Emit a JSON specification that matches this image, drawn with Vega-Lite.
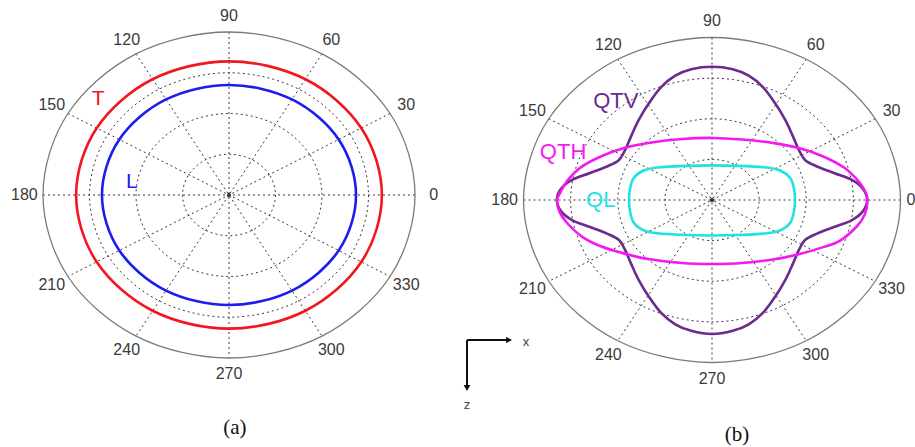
{
  "$schema": "https://vega.github.io/schema/vega-lite/v6.json",
  "width": 915,
  "height": 447,
  "autosize": {"type": "none"},
  "padding": 0,
  "background": "white",
  "config": {"view": {"stroke": null}, "axis": {"disable": true}},
  "datasets": {
    "grid": [
      {"r": 0.25, "i": 0, "x": 0.25, "y": 0}, {"r": 0.25, "i": 1, "x": 0.2165, "y": 0.125}, {"r": 0.25, "i": 2, "x": 0.125, "y": 0.2165}, {"r": 0.25, "i": 3, "x": 0, "y": 0.25}, {"r": 0.25, "i": 4, "x": -0.125, "y": 0.2165}, {"r": 0.25, "i": 5, "x": -0.2165, "y": 0.125}, {"r": 0.25, "i": 6, "x": -0.25, "y": 0}, {"r": 0.25, "i": 7, "x": -0.2165, "y": -0.125}, {"r": 0.25, "i": 8, "x": -0.125, "y": -0.2165}, {"r": 0.25, "i": 9, "x": 0, "y": -0.25}, {"r": 0.25, "i": 10, "x": 0.125, "y": -0.2165}, {"r": 0.25, "i": 11, "x": 0.2165, "y": -0.125},
      {"r": 0.5, "i": 0, "x": 0.5, "y": 0}, {"r": 0.5, "i": 1, "x": 0.433, "y": 0.25}, {"r": 0.5, "i": 2, "x": 0.25, "y": 0.433}, {"r": 0.5, "i": 3, "x": 0, "y": 0.5}, {"r": 0.5, "i": 4, "x": -0.25, "y": 0.433}, {"r": 0.5, "i": 5, "x": -0.433, "y": 0.25}, {"r": 0.5, "i": 6, "x": -0.5, "y": 0}, {"r": 0.5, "i": 7, "x": -0.433, "y": -0.25}, {"r": 0.5, "i": 8, "x": -0.25, "y": -0.433}, {"r": 0.5, "i": 9, "x": 0, "y": -0.5}, {"r": 0.5, "i": 10, "x": 0.25, "y": -0.433}, {"r": 0.5, "i": 11, "x": 0.433, "y": -0.25},
      {"r": 0.75, "i": 0, "x": 0.75, "y": 0}, {"r": 0.75, "i": 1, "x": 0.6495, "y": 0.375}, {"r": 0.75, "i": 2, "x": 0.375, "y": 0.6495}, {"r": 0.75, "i": 3, "x": 0, "y": 0.75}, {"r": 0.75, "i": 4, "x": -0.375, "y": 0.6495}, {"r": 0.75, "i": 5, "x": -0.6495, "y": 0.375}, {"r": 0.75, "i": 6, "x": -0.75, "y": 0}, {"r": 0.75, "i": 7, "x": -0.6495, "y": -0.375}, {"r": 0.75, "i": 8, "x": -0.375, "y": -0.6495}, {"r": 0.75, "i": 9, "x": 0, "y": -0.75}, {"r": 0.75, "i": 10, "x": 0.375, "y": -0.6495}, {"r": 0.75, "i": 11, "x": 0.6495, "y": -0.375}
    ],
    "outer": [
      {"i": 0, "x": 1, "y": 0}, {"i": 1, "x": 0.866, "y": 0.5}, {"i": 2, "x": 0.5, "y": 0.866}, {"i": 3, "x": 0, "y": 1}, {"i": 4, "x": -0.5, "y": 0.866}, {"i": 5, "x": -0.866, "y": 0.5}, {"i": 6, "x": -1, "y": 0}, {"i": 7, "x": -0.866, "y": -0.5}, {"i": 8, "x": -0.5, "y": -0.866}, {"i": 9, "x": 0, "y": -1}, {"i": 10, "x": 0.5, "y": -0.866}, {"i": 11, "x": 0.866, "y": -0.5}
    ],
    "spokes": [
      {"a": 0, "x": 1, "y": 0, "x2": -1, "y2": 0},
      {"a": 30, "x": 0.866, "y": 0.5, "x2": -0.866, "y2": -0.5},
      {"a": 60, "x": 0.5, "y": 0.866, "x2": -0.5, "y2": -0.866},
      {"a": 90, "x": 0, "y": 1, "x2": 0, "y2": -1},
      {"a": 120, "x": -0.5, "y": 0.866, "x2": 0.5, "y2": -0.866},
      {"a": 150, "x": -0.866, "y": 0.5, "x2": 0.866, "y2": -0.5}
    ],
    "centre": [{"x": 0, "y": 0}],
    "anglesA": [
      {"t": "0", "x": 1.1, "y": 0}, {"t": "30", "x": 0.9526, "y": 0.55}, {"t": "60", "x": 0.55, "y": 0.9526}, {"t": "90", "x": 0, "y": 1.1}, {"t": "120", "x": -0.55, "y": 0.9526}, {"t": "150", "x": -0.9526, "y": 0.55}, {"t": "180", "x": -1.1, "y": 0}, {"t": "210", "x": -0.9526, "y": -0.55}, {"t": "240", "x": -0.55, "y": -0.9526}, {"t": "270", "x": 0, "y": -1.1}, {"t": "300", "x": 0.55, "y": -0.9526}, {"t": "330", "x": 0.9526, "y": -0.55}
    ],
    "anglesB": [
      {"t": "0", "x": 1.055, "y": 0}, {"t": "30", "x": 0.9526, "y": 0.55}, {"t": "60", "x": 0.55, "y": 0.9526}, {"t": "90", "x": 0, "y": 1.1}, {"t": "120", "x": -0.55, "y": 0.9526}, {"t": "150", "x": -0.9526, "y": 0.55}, {"t": "180", "x": -1.1, "y": 0}, {"t": "210", "x": -0.9526, "y": -0.55}, {"t": "240", "x": -0.55, "y": -0.9526}, {"t": "270", "x": 0, "y": -1.1}, {"t": "300", "x": 0.55, "y": -0.9526}, {"t": "330", "x": 0.9526, "y": -0.55}
    ],
    "curvesA": [
      {"s": "T", "i": 0, "x": 0.822, "y": 0}, {"s": "T", "i": 1, "x": 0.7119, "y": 0.41}, {"s": "T", "i": 2, "x": 0.411, "y": 0.7101}, {"s": "T", "i": 3, "x": 0, "y": 0.82}, {"s": "T", "i": 4, "x": -0.411, "y": 0.7101}, {"s": "T", "i": 5, "x": -0.7119, "y": 0.41}, {"s": "T", "i": 6, "x": -0.822, "y": 0}, {"s": "T", "i": 7, "x": -0.7119, "y": -0.41}, {"s": "T", "i": 8, "x": -0.411, "y": -0.7101}, {"s": "T", "i": 9, "x": 0, "y": -0.82}, {"s": "T", "i": 10, "x": 0.411, "y": -0.7101}, {"s": "T", "i": 11, "x": 0.7119, "y": -0.41},
      {"s": "L", "i": 0, "x": 0.683, "y": 0}, {"s": "L", "i": 1, "x": 0.5915, "y": 0.3375}, {"s": "L", "i": 2, "x": 0.3415, "y": 0.5846}, {"s": "L", "i": 3, "x": 0, "y": 0.675}, {"s": "L", "i": 4, "x": -0.3415, "y": 0.5846}, {"s": "L", "i": 5, "x": -0.5915, "y": 0.3375}, {"s": "L", "i": 6, "x": -0.683, "y": 0}, {"s": "L", "i": 7, "x": -0.5915, "y": -0.3375}, {"s": "L", "i": 8, "x": -0.3415, "y": -0.5846}, {"s": "L", "i": 9, "x": 0, "y": -0.675}, {"s": "L", "i": 10, "x": 0.3415, "y": -0.5846}, {"s": "L", "i": 11, "x": 0.5915, "y": -0.3375}
    ],
    "curvesB": [
      {"s": "QTV", "i": 0, "x": 0.823, "y": 0}, {"s": "QTV", "i": 1, "x": 0.8, "y": 0.07}, {"s": "QTV", "i": 2, "x": 0.74, "y": 0.125}, {"s": "QTV", "i": 3, "x": 0.65, "y": 0.165}, {"s": "QTV", "i": 4, "x": 0.56, "y": 0.205}, {"s": "QTV", "i": 5, "x": 0.495, "y": 0.245}, {"s": "QTV", "i": 6, "x": 0.46, "y": 0.31}, {"s": "QTV", "i": 7, "x": 0.43, "y": 0.39}, {"s": "QTV", "i": 8, "x": 0.39, "y": 0.49}, {"s": "QTV", "i": 9, "x": 0.335, "y": 0.595}, {"s": "QTV", "i": 10, "x": 0.27, "y": 0.695}, {"s": "QTV", "i": 11, "x": 0.195, "y": 0.765}, {"s": "QTV", "i": 12, "x": 0.11, "y": 0.805},
      {"s": "QTV", "i": 13, "x": 0, "y": 0.82}, {"s": "QTV", "i": 14, "x": -0.11, "y": 0.805}, {"s": "QTV", "i": 15, "x": -0.195, "y": 0.765}, {"s": "QTV", "i": 16, "x": -0.27, "y": 0.695}, {"s": "QTV", "i": 17, "x": -0.335, "y": 0.595}, {"s": "QTV", "i": 18, "x": -0.39, "y": 0.49}, {"s": "QTV", "i": 19, "x": -0.43, "y": 0.39}, {"s": "QTV", "i": 20, "x": -0.46, "y": 0.31}, {"s": "QTV", "i": 21, "x": -0.495, "y": 0.245}, {"s": "QTV", "i": 22, "x": -0.56, "y": 0.205}, {"s": "QTV", "i": 23, "x": -0.65, "y": 0.165}, {"s": "QTV", "i": 24, "x": -0.74, "y": 0.125}, {"s": "QTV", "i": 25, "x": -0.8, "y": 0.07},
      {"s": "QTV", "i": 26, "x": -0.823, "y": 0}, {"s": "QTV", "i": 27, "x": -0.8, "y": -0.07}, {"s": "QTV", "i": 28, "x": -0.74, "y": -0.125}, {"s": "QTV", "i": 29, "x": -0.65, "y": -0.165}, {"s": "QTV", "i": 30, "x": -0.56, "y": -0.205}, {"s": "QTV", "i": 31, "x": -0.495, "y": -0.245}, {"s": "QTV", "i": 32, "x": -0.46, "y": -0.31}, {"s": "QTV", "i": 33, "x": -0.43, "y": -0.39}, {"s": "QTV", "i": 34, "x": -0.39, "y": -0.49}, {"s": "QTV", "i": 35, "x": -0.335, "y": -0.595}, {"s": "QTV", "i": 36, "x": -0.27, "y": -0.695}, {"s": "QTV", "i": 37, "x": -0.195, "y": -0.765}, {"s": "QTV", "i": 38, "x": -0.11, "y": -0.805},
      {"s": "QTV", "i": 39, "x": 0, "y": -0.825}, {"s": "QTV", "i": 40, "x": 0.11, "y": -0.805}, {"s": "QTV", "i": 41, "x": 0.195, "y": -0.765}, {"s": "QTV", "i": 42, "x": 0.27, "y": -0.695}, {"s": "QTV", "i": 43, "x": 0.335, "y": -0.595}, {"s": "QTV", "i": 44, "x": 0.39, "y": -0.49}, {"s": "QTV", "i": 45, "x": 0.43, "y": -0.39}, {"s": "QTV", "i": 46, "x": 0.46, "y": -0.31}, {"s": "QTV", "i": 47, "x": 0.495, "y": -0.245}, {"s": "QTV", "i": 48, "x": 0.56, "y": -0.205}, {"s": "QTV", "i": 49, "x": 0.65, "y": -0.165}, {"s": "QTV", "i": 50, "x": 0.74, "y": -0.125}, {"s": "QTV", "i": 51, "x": 0.8, "y": -0.07},
      {"s": "QTH", "i": 0, "x": 0.825, "y": 0}, {"s": "QTH", "i": 1, "x": 0.81, "y": 0.06}, {"s": "QTH", "i": 2, "x": 0.77, "y": 0.125}, {"s": "QTH", "i": 3, "x": 0.7, "y": 0.2}, {"s": "QTH", "i": 4, "x": 0.59, "y": 0.268}, {"s": "QTH", "i": 5, "x": 0.465, "y": 0.318}, {"s": "QTH", "i": 6, "x": 0.33, "y": 0.35}, {"s": "QTH", "i": 7, "x": 0.16, "y": 0.372}, {"s": "QTH", "i": 8, "x": 0, "y": 0.382}, {"s": "QTH", "i": 9, "x": -0.16, "y": 0.375}, {"s": "QTH", "i": 10, "x": -0.33, "y": 0.352}, {"s": "QTH", "i": 11, "x": -0.465, "y": 0.32}, {"s": "QTH", "i": 12, "x": -0.59, "y": 0.268}, {"s": "QTH", "i": 13, "x": -0.7, "y": 0.198}, {"s": "QTH", "i": 14, "x": -0.77, "y": 0.115}, {"s": "QTH", "i": 15, "x": -0.805, "y": 0.045},
      {"s": "QTH", "i": 16, "x": -0.822, "y": 0}, {"s": "QTH", "i": 17, "x": -0.81, "y": -0.07}, {"s": "QTH", "i": 18, "x": -0.77, "y": -0.14}, {"s": "QTH", "i": 19, "x": -0.69, "y": -0.225}, {"s": "QTH", "i": 20, "x": -0.59, "y": -0.285}, {"s": "QTH", "i": 21, "x": -0.465, "y": -0.33}, {"s": "QTH", "i": 22, "x": -0.33, "y": -0.365}, {"s": "QTH", "i": 23, "x": -0.16, "y": -0.388}, {"s": "QTH", "i": 24, "x": 0, "y": -0.394}, {"s": "QTH", "i": 25, "x": 0.16, "y": -0.388}, {"s": "QTH", "i": 26, "x": 0.33, "y": -0.365}, {"s": "QTH", "i": 27, "x": 0.465, "y": -0.332}, {"s": "QTH", "i": 28, "x": 0.59, "y": -0.29}, {"s": "QTH", "i": 29, "x": 0.68, "y": -0.25}, {"s": "QTH", "i": 30, "x": 0.77, "y": -0.16}, {"s": "QTH", "i": 31, "x": 0.81, "y": -0.09},
      {"s": "QL", "i": 0, "x": 0.44, "y": 0}, {"s": "QL", "i": 1, "x": 0.435, "y": 0.07}, {"s": "QL", "i": 2, "x": 0.415, "y": 0.135}, {"s": "QL", "i": 3, "x": 0.365, "y": 0.18}, {"s": "QL", "i": 4, "x": 0.29, "y": 0.2}, {"s": "QL", "i": 5, "x": 0.145, "y": 0.21}, {"s": "QL", "i": 6, "x": 0, "y": 0.213}, {"s": "QL", "i": 7, "x": -0.145, "y": 0.21}, {"s": "QL", "i": 8, "x": -0.29, "y": 0.2}, {"s": "QL", "i": 9, "x": -0.365, "y": 0.18}, {"s": "QL", "i": 10, "x": -0.415, "y": 0.135}, {"s": "QL", "i": 11, "x": -0.435, "y": 0.07},
      {"s": "QL", "i": 12, "x": -0.44, "y": 0}, {"s": "QL", "i": 13, "x": -0.435, "y": -0.07}, {"s": "QL", "i": 14, "x": -0.415, "y": -0.14}, {"s": "QL", "i": 15, "x": -0.365, "y": -0.185}, {"s": "QL", "i": 16, "x": -0.29, "y": -0.205}, {"s": "QL", "i": 17, "x": -0.145, "y": -0.215}, {"s": "QL", "i": 18, "x": 0, "y": -0.218}, {"s": "QL", "i": 19, "x": 0.145, "y": -0.215}, {"s": "QL", "i": 20, "x": 0.29, "y": -0.205}, {"s": "QL", "i": 21, "x": 0.365, "y": -0.185}, {"s": "QL", "i": 22, "x": 0.415, "y": -0.14}, {"s": "QL", "i": 23, "x": 0.435, "y": -0.07}
    ],
    "namesA": [
      {"s": "T", "x": -0.704, "y": 0.589},
      {"s": "L", "x": -0.522, "y": 0.08}
    ],
    "namesB": [
      {"s": "QTV", "x": -0.51, "y": 0.609},
      {"s": "QTH", "x": -0.79, "y": 0.295},
      {"s": "QL", "x": -0.59, "y": 0}
    ],
    "captionA": [{"t": "(a)", "x": 0.032, "y": -1.429}],
    "captionB": [{"t": "(b)", "x": 0.133, "y": -1.445}],
    "arrows": [
      {"x": -1.2997, "y": -0.8615, "x2": -1.0875, "y2": -0.8615},
      {"x": -1.2997, "y": -0.8615, "x2": -1.2997, "y2": -1.1385}
    ],
    "heads": [
      {"d": "right", "x": -1.0769, "y": -0.8615},
      {"d": "down", "x": -1.2997, "y": -1.1569}
    ],
    "axisNames": [
      {"t": "x", "x": -0.9867, "y": -0.874},
      {"t": "z", "x": -1.2997, "y": -1.2615}
    ]
  },
  "resolve": {"scale": {"x": "independent", "y": "independent"}},
  "layer": [
    {
      "layer": [
        {
          "data": {"name": "spokes"},
          "mark": {"type": "rule", "color": "#3a3a3a", "strokeWidth": 1, "strokeDash": [2, 3]},
          "encoding": {
            "x": {"field": "x", "type": "quantitative", "scale": {"domain": [-1.2312, 3.6882], "nice": false, "zero": false}},
            "y": {"field": "y", "type": "quantitative", "scale": {"domain": [-1.546, 1.1963], "nice": false, "zero": false}},
            "x2": {"field": "x2"},
            "y2": {"field": "y2"}
          }
        },
        {
          "data": {"name": "grid"},
          "mark": {"type": "line", "interpolate": "cardinal-closed", "color": "#3a3a3a", "strokeWidth": 1, "strokeDash": [2, 3]},
          "encoding": {
            "x": {"field": "x", "type": "quantitative"},
            "y": {"field": "y", "type": "quantitative"},
            "detail": {"field": "r", "type": "nominal"},
            "order": {"field": "i", "type": "quantitative"}
          }
        },
        {
          "data": {"name": "outer"},
          "mark": {"type": "line", "interpolate": "cardinal-closed", "color": "#7a7a7a", "strokeWidth": 1.3},
          "encoding": {
            "x": {"field": "x", "type": "quantitative"},
            "y": {"field": "y", "type": "quantitative"},
            "order": {"field": "i", "type": "quantitative"}
          }
        },
        {
          "data": {"name": "centre"},
          "mark": {"type": "point", "filled": true, "color": "#333333", "size": 16, "opacity": 1},
          "encoding": {
            "x": {"field": "x", "type": "quantitative"},
            "y": {"field": "y", "type": "quantitative"}
          }
        },
        {
          "data": {"name": "curvesA"},
          "mark": {"type": "line", "interpolate": "cardinal-closed", "strokeWidth": 2.6},
          "encoding": {
            "x": {"field": "x", "type": "quantitative"},
            "y": {"field": "y", "type": "quantitative"},
            "color": {"field": "s", "type": "nominal", "legend": null, "scale": {"domain": ["T", "L", "QTV", "QTH", "QL"], "range": ["#f2161e", "#1c1cf0", "#6a2a8e", "#f21af0", "#1ee3e3"]}},
            "order": {"field": "i", "type": "quantitative"}
          }
        },
        {
          "data": {"name": "anglesA"},
          "mark": {"type": "text", "font": "Liberation Sans", "fontSize": 16, "color": "#3a3a3a", "align": "center", "baseline": "middle"},
          "encoding": {
            "x": {"field": "x", "type": "quantitative"},
            "y": {"field": "y", "type": "quantitative"},
            "text": {"field": "t", "type": "nominal"}
          }
        },
        {
          "data": {"name": "namesA"},
          "mark": {"type": "text", "font": "Liberation Sans", "fontSize": 21, "align": "center", "baseline": "middle"},
          "encoding": {
            "x": {"field": "x", "type": "quantitative"},
            "y": {"field": "y", "type": "quantitative"},
            "text": {"field": "s", "type": "nominal"},
            "color": {"field": "s", "type": "nominal", "legend": null}
          }
        },
        {
          "data": {"name": "captionA"},
          "mark": {"type": "text", "font": "Liberation Serif", "fontSize": 21, "color": "#111111", "align": "center", "baseline": "middle"},
          "encoding": {
            "x": {"field": "x", "type": "quantitative"},
            "y": {"field": "y", "type": "quantitative"},
            "text": {"field": "t", "type": "nominal"}
          }
        }
      ]
    },
    {
      "layer": [
        {
          "data": {"name": "spokes"},
          "mark": {"type": "rule", "color": "#3a3a3a", "strokeWidth": 1, "strokeDash": [2, 3]},
          "encoding": {
            "x": {"field": "x", "type": "quantitative", "scale": {"domain": [-3.7772, 1.0769], "nice": false, "zero": false}},
            "y": {"field": "y", "type": "quantitative", "scale": {"domain": [-1.52, 1.2308], "nice": false, "zero": false}},
            "x2": {"field": "x2"},
            "y2": {"field": "y2"}
          }
        },
        {
          "data": {"name": "grid"},
          "mark": {"type": "line", "interpolate": "cardinal-closed", "color": "#3a3a3a", "strokeWidth": 1, "strokeDash": [2, 3]},
          "encoding": {
            "x": {"field": "x", "type": "quantitative"},
            "y": {"field": "y", "type": "quantitative"},
            "detail": {"field": "r", "type": "nominal"},
            "order": {"field": "i", "type": "quantitative"}
          }
        },
        {
          "data": {"name": "outer"},
          "mark": {"type": "line", "interpolate": "cardinal-closed", "color": "#7a7a7a", "strokeWidth": 1.3},
          "encoding": {
            "x": {"field": "x", "type": "quantitative"},
            "y": {"field": "y", "type": "quantitative"},
            "order": {"field": "i", "type": "quantitative"}
          }
        },
        {
          "data": {"name": "centre"},
          "mark": {"type": "point", "filled": true, "color": "#333333", "size": 16, "opacity": 1},
          "encoding": {
            "x": {"field": "x", "type": "quantitative"},
            "y": {"field": "y", "type": "quantitative"}
          }
        },
        {
          "data": {"name": "curvesB"},
          "mark": {"type": "line", "interpolate": "cardinal-closed", "strokeWidth": 2.6},
          "encoding": {
            "x": {"field": "x", "type": "quantitative"},
            "y": {"field": "y", "type": "quantitative"},
            "color": {"field": "s", "type": "nominal", "legend": null},
            "order": {"field": "i", "type": "quantitative"}
          }
        },
        {
          "data": {"name": "anglesB"},
          "mark": {"type": "text", "font": "Liberation Sans", "fontSize": 16, "color": "#3a3a3a", "align": "center", "baseline": "middle"},
          "encoding": {
            "x": {"field": "x", "type": "quantitative"},
            "y": {"field": "y", "type": "quantitative"},
            "text": {"field": "t", "type": "nominal"}
          }
        },
        {
          "data": {"name": "namesB"},
          "mark": {"type": "text", "font": "Liberation Sans", "fontSize": 22, "align": "center", "baseline": "middle"},
          "encoding": {
            "x": {"field": "x", "type": "quantitative"},
            "y": {"field": "y", "type": "quantitative"},
            "text": {"field": "s", "type": "nominal"},
            "color": {"field": "s", "type": "nominal", "legend": null}
          }
        },
        {
          "data": {"name": "captionB"},
          "mark": {"type": "text", "font": "Liberation Serif", "fontSize": 21, "color": "#111111", "align": "center", "baseline": "middle"},
          "encoding": {
            "x": {"field": "x", "type": "quantitative"},
            "y": {"field": "y", "type": "quantitative"},
            "text": {"field": "t", "type": "nominal"}
          }
        },
        {
          "data": {"name": "arrows"},
          "mark": {"type": "rule", "color": "#111111", "strokeWidth": 2},
          "encoding": {
            "x": {"field": "x", "type": "quantitative"},
            "y": {"field": "y", "type": "quantitative"},
            "x2": {"field": "x2"},
            "y2": {"field": "y2"}
          }
        },
        {
          "data": {"name": "heads"},
          "mark": {"type": "point", "filled": true, "color": "#111111", "size": 45, "opacity": 1},
          "encoding": {
            "x": {"field": "x", "type": "quantitative"},
            "y": {"field": "y", "type": "quantitative"},
            "shape": {"field": "d", "type": "nominal", "legend": null, "scale": {"domain": ["right", "down"], "range": ["triangle-right", "triangle-down"]}}
          }
        },
        {
          "data": {"name": "axisNames"},
          "mark": {"type": "text", "font": "Liberation Sans", "fontSize": 13, "color": "#444444", "align": "center", "baseline": "middle"},
          "encoding": {
            "x": {"field": "x", "type": "quantitative"},
            "y": {"field": "y", "type": "quantitative"},
            "text": {"field": "t", "type": "nominal"}
          }
        }
      ]
    }
  ]
}
